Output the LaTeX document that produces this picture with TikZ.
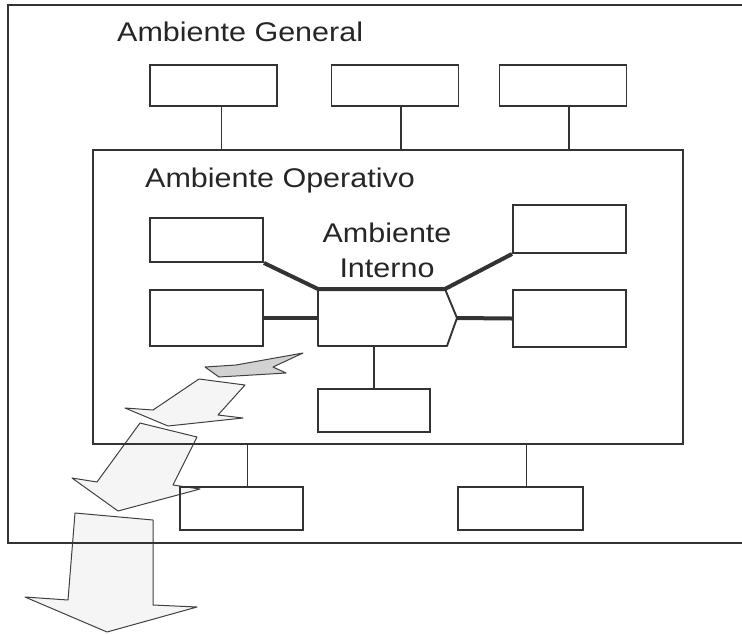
\documentclass[tikz,border=0pt]{standalone}
\usepackage{fontspec}
\setmainfont[FakeStretch=1.13]{Liberation Sans}

\begin{document}
\begin{tikzpicture}[x=1pt,y=-1pt,
	caja/.style={draw=black!80,line width=1.9pt,inner sep=0pt},
	marco/.style={draw=black!80,line width=2.2pt,inner sep=0pt},
	liga/.style={draw=black!80,line width=1.6pt},
	enlace/.style={draw=black!80,line width=4pt},
	flecha/.style={draw=black!75,line width=1pt,line join=round,fill=gray!8},
	rotulo/.style={font=\fontsize{27}{32}\selectfont,text=black!85,inner sep=0pt}]
		\useasboundingbox (0,0) rectangle (742,633);
		% flechas que salen del ambiente interno
		\def\flechauno{(303,353) -- (236,365) -- (205,367) -- (219,377) -- (286,373) -- (273,367) -- cycle}
		\def\flechados{(199,379) -- (245,385) -- (218,415) -- (243,418) -- (168,426) -- (125,408) -- (153,410) -- cycle}
		\def\flechatres{(140,423) -- (197,437) -- (173,485) -- (200,489) -- (118,511) -- (72,478) -- (97,482) -- cycle}
		\def\flechacuatro{(75,513) -- (153,520) -- (153,605) -- (197,607) -- (107,632) -- (25,597) -- (68,600) -- cycle}
		\draw[flecha,fill=gray!35] \flechauno;
		\draw[flecha] \flechados;
		\draw[flecha] \flechatres;
		\draw[flecha] \flechacuatro;
		% ambientes (el general sigue fuera del margen derecho)
		\node[inner sep=0pt,minimum width=734,minimum height=538] (general) at (375,274) {};
		\draw[marco] (general.north east) -- (general.north west) -- (general.south west) -- (general.south east);
		\node[marco,minimum width=590,minimum height=294] (operativo) at (388,297) {};
		\node[rotulo,anchor=base west] (tgeneral) at (117,41) {Ambiente General};
		\node[rotulo,anchor=base west] (toperativo) at (145,187) {Ambiente Operativo};
		\node[rotulo,anchor=base] (tambiente) at (387,242) {Ambiente};
		\node[rotulo,anchor=base] (tinterno) at (387,277) {Interno};
		% ambiente general
		\node[caja,minimum width=127,minimum height=41] (g1) at (213.5,85.5) {};
		\node[caja,minimum width=127,minimum height=41] (g2) at (395,85.5) {};
		\node[caja,minimum width=127,minimum height=41] (g3) at (563,85.5) {};
		\node[caja,minimum width=123,minimum height=43] (g4) at (241.5,508.5) {};
		\node[caja,minimum width=125,minimum height=43] (g5) at (520.5,508.5) {};
		\draw[liga] ([xshift=8]g1.south) -- ([xshift=8]g1.south |- operativo.north);
		\draw[liga] ([xshift=6]g2.south) -- ([xshift=6]g2.south |- operativo.north);
		\draw[liga] ([xshift=6]g3.south) -- ([xshift=6]g3.south |- operativo.north);
		\draw[liga] ([xshift=6]g4.north) -- ([xshift=6]g4.north |- operativo.south);
		\draw[liga] ([xshift=6]g5.north) -- ([xshift=6]g5.north |- operativo.south);
		% ambiente operativo
		\node[caja,minimum width=113,minimum height=44] (o1) at (206.5,240) {};
		\node[caja,minimum width=113,minimum height=56] (o2) at (206.5,318) {};
		\node[caja,minimum width=113,minimum height=48] (o3) at (569.5,229) {};
		\node[caja,minimum width=113,minimum height=57] (o4) at (569.5,318.5) {};
		\node[caja,minimum width=112,minimum height=43] (o5) at (374,410.5) {};
		% ambiente interno
		\coordinate (iNW) at (318,289);
		\coordinate (iNE) at (445,289);
		\coordinate (iE) at (457,318);
		\coordinate (iSE) at (447,346);
		\coordinate (iSW) at (318,346);
		\draw[caja,line join=round] (iNW) -- (iNE) -- (iE) -- (iSE) -- (iSW) -- cycle;
		\draw[enlace] (o1.south east) -- (iNW) -- (iNE) -- (o3.south west);
		\draw[enlace] (o2.east) -- (o2.east -| iSW);
		\draw[enlace] (iE) -- (o4.west);
		\draw[liga] (o5.north |- iSW) -- (o5.north);
	\end{tikzpicture}
\end{document}
